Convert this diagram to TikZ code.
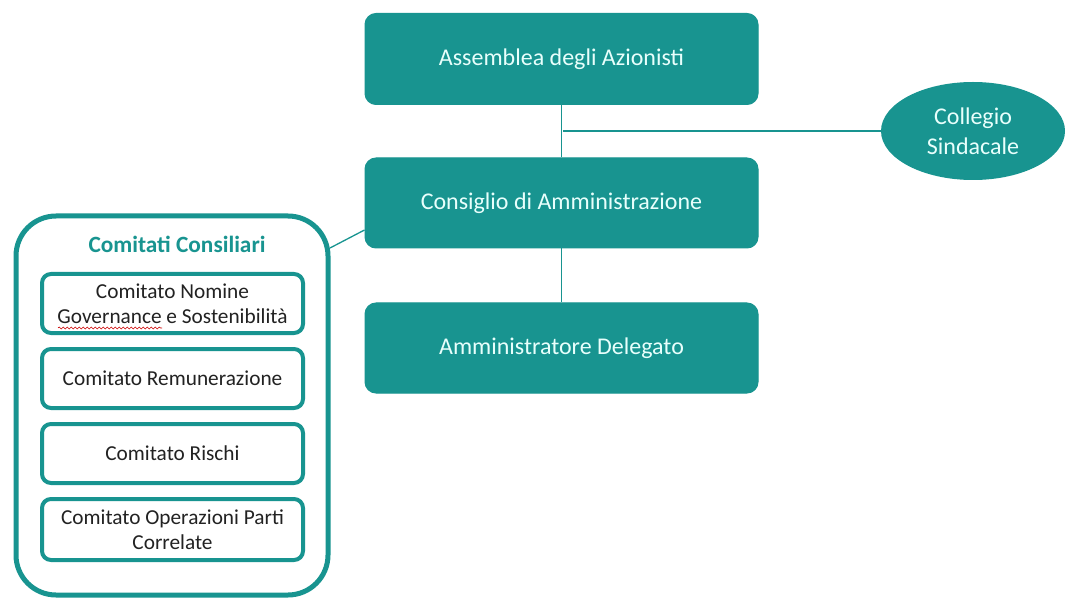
\documentclass[tikz,border=0pt]{standalone}
\usepackage{fontspec}
\setmainfont{Carlito}
\usetikzlibrary{shapes.geometric,calc,decorations.pathmorphing}
\definecolor{teal1}{RGB}{24,148,144}
\definecolor{lighttxt}{RGB}{232,255,252}
\definecolor{darktxt}{RGB}{34,34,34}
\begin{document}
\begin{tikzpicture}[x=1pt,y=-1pt,
  mainbox/.style={rectangle,rounded corners=11pt,fill=teal1,draw=teal1,line width=1pt,
    minimum width=393pt,text=lighttxt,font=\fontsize{24}{28}\selectfont,inner sep=0pt},
  subbox/.style={rectangle,rounded corners=9pt,draw=teal1,line width=4pt,fill=white,
    minimum width=261pt,text=darktxt,font=\fontsize{21.3}{25}\selectfont,align=center,inner sep=0pt},
  link/.style={draw=teal1,line width=1.3pt}]
\useasboundingbox (0,0) rectangle (1067,601);
\fill[white] (0,0) rectangle (1067,601);
% container
\node[rectangle,rounded corners=40pt,draw=teal1,line width=5pt,minimum width=312pt,minimum height=379pt,inner sep=0pt] (com) at (172,405.5) {};
\node[text=teal1,font=\fontsize{23.3}{27}\selectfont\bfseries] (comt) at (177,244) {Comitati Consiliari};
\node[subbox,minimum height=59pt] (c1) at (172.5,303.5) {Comitato Nomine\\Governance e Sostenibilità};
\node[subbox,minimum height=59pt] (c2) at (172.5,378.5) {Comitato Remunerazione};
\node[subbox,minimum height=59pt] (c3) at (172.5,453.5) {Comitato Rischi};
\node[subbox,minimum height=61pt] (c4) at (172.5,529.5) {Comitato Operazioni Parti\\Correlate};
\coordinate (sq1) at (58,328);
\coordinate (sq2) at (162,328);
\draw[red!80!black,line width=0.6pt,decorate,decoration={snake,amplitude=1pt,segment length=4pt}] (sq1) -- (sq2);
% main boxes
\node[mainbox,minimum height=91pt] (ass) at (561.5,59) {Assemblea degli Azionisti};
\node[mainbox,minimum height=90pt] (cons) at (561.5,203) {Consiglio di Amministrazione};
\node[mainbox,minimum height=90pt] (amm) at (561.5,348) {Amministratore Delegato};
\node[ellipse,fill=teal1,minimum width=184pt,minimum height=98pt,inner sep=0pt,text=lighttxt,
  font=\fontsize{24}{30}\selectfont,align=center] (coll) at (973,131) {Collegio\\Sindacale};
% connectors
\draw[link] (ass.south) -- (cons.north);
\coordinate (j) at (563,131);
\draw[link] (j) -- (coll.west);
\draw[link] (cons.south) -- (amm.north);
\coordinate (ca) at (330,248);
\draw[link] (ca) -- ($(cons.west)+(0,27)$);
\end{tikzpicture}
\end{document}
